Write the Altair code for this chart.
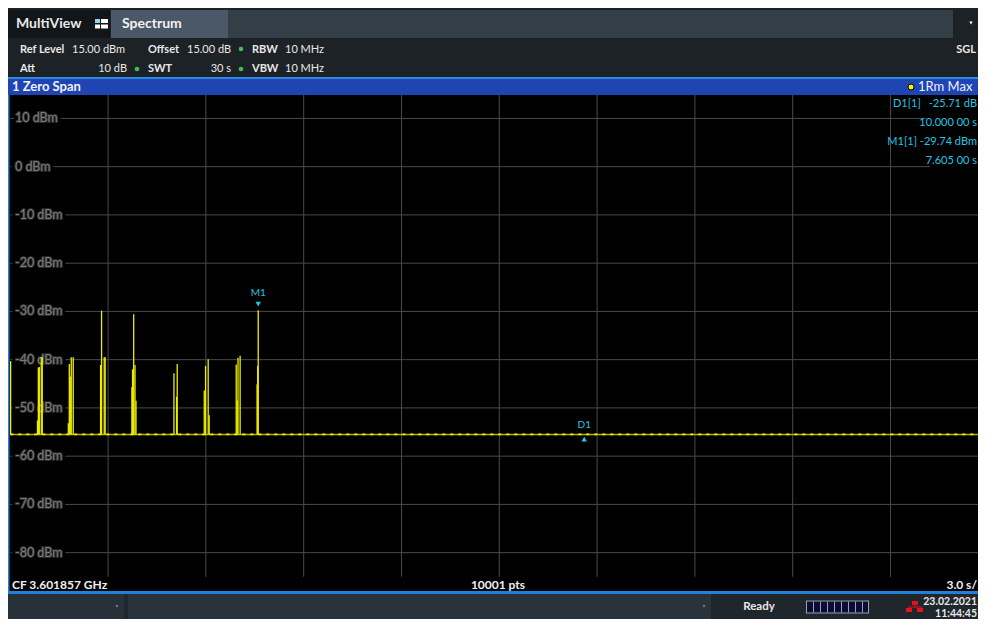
import altair as alt
import pandas as pd

# ---------------- data ----------------
grid_times = [3, 6, 9, 12, 15, 18, 21, 24, 27]
grid_levels = [10, 0, -10, -20, -30, -40, -50, -60, -70, -80]
level_labels = ["10 dBm", "0 dBm", "-10 dBm", "-20 dBm", "-30 dBm", "-40 dBm",
                "-50 dBm", "-60 dBm", "-70 dBm", "-80 dBm"]
noise_floor = -55.5
spike_t = [0.01, 0.834, 0.86, 0.89, 0.95, 0.98, 1.78, 1.81, 1.84, 1.87, 1.93,
           2.77, 2.80, 2.88, 2.91, 3.73, 3.75, 3.785, 3.825, 3.856, 5.02, 5.10,
           5.12, 5.95, 5.99, 6.07, 6.10, 6.93, 6.96, 6.985, 7.05, 7.57, 7.59, 7.605]
spike_db = [-40.3, -52.6, -41.6, -41.5, -39.5, -39.5, -53.2, -40.9, -43.5, -39.5,
            -39.5, -41.1, -29.85, -39.5, -39.5, -45.7, -42.0, -30.6, -41.1, -48.5,
            -42.8, -47.7, -40.9, -46.4, -41.3, -39.9, -51.5, -41.0, -48.4, -39.6,
            -39.2, -45.1, -41.3, -29.74]
m1_t, m1_db = 7.605, -29.74
d1_t, d1_db = 17.605, -55.45

FONT = "Lato"
W, H = 970, 611
X_SCALE = alt.Scale(domain=[-0.07055, 29.684], nice=False, zero=False)
Y_SCALE = alt.Scale(domain=[-93.75, 32.886], nice=False, zero=False)
one = alt.Data(values=[{"a": 1}])
OFF = 8  # page margin
RIGHT = 977


def box(x1, y1, x2, y2, color):
    return alt.Chart(one).mark_rect(color=color).encode(
        x=alt.value(x1 - OFF), x2=alt.value(x2 - OFF),
        y=alt.value(y1 - OFF), y2=alt.value(y2 - OFF))


def label(x, y, s, color="#e8e8e8", size=11, weight="bold", align="left", **kw):
    return alt.Chart(one).mark_text(text=s, color=color, fontSize=size, fontWeight=weight,
                                    align=align, baseline="middle", font=FONT, **kw).encode(
        x=alt.value(x - OFF), y=alt.value(y - OFF))


def tri(x, y, color, shape="triangle-down", size=14):
    return alt.Chart(one).mark_point(shape=shape, filled=True, color=color, size=size,
                                     opacity=1).encode(x=alt.value(x - OFF), y=alt.value(y - OFF))


layers = []
# ---- top chrome ----
layers += [
    box(7, 5, 990, 78, "#1d2227"),
    box(7, 10, 110, 38, "#121619"),
    box(111, 10, 228, 38, "#4a5867"),
    box(228, 10, 953, 38, "#343e47"),
    box(95, 19, 100, 23, "#8fd6f5"), box(101, 19, 108, 23, "#ffffff"),
    box(95, 24.5, 100, 28.5, "#ffffff"), box(101, 24.5, 108, 28.5, "#ffffff"),
    tri(971, 23, "#ffffff", size=12),
    label(16, 24, "MultiView", size=14),
    label(122, 24, "Spectrum", size=14, color="#f2f2f2"),
    label(20, 50, "Ref Level"), label(72, 50, "15.00 dBm", weight="normal"),
    label(148, 50, "Offset"), label(187, 50, "15.00 dB", weight="normal"),
    label(252, 50, "RBW"), label(285, 50, "10 MHz", weight="normal"),
    label(20, 69, "Att"), label(127, 69, "10 dB", weight="normal", align="right"),
    label(148, 69, "SWT"), label(231, 69, "30 s", weight="normal", align="right"),
    label(252, 69, "VBW"), label(285, 69, "10 MHz", weight="normal"),
    label(RIGHT - 1, 50, "SGL", align="right"),
]
for cx, cy in [(241, 49), (137, 69), (241, 69)]:
    layers.append(alt.Chart(one).mark_point(shape="circle", filled=True, color="#3fbf5a",
                                            size=22, opacity=1).encode(
        x=alt.value(cx - OFF), y=alt.value(cy - OFF)))
# blue title bar
layers += [
    box(7, 77, 990, 79, "#2b8ae6"),
    box(7, 79, 990, 95, "#1f45b2"),
    label(12, 87, "1 Zero Span", size=13, color="#eef2ff"),
    alt.Chart(one).mark_point(shape="circle", filled=True, color="#ffee00", size=36,
                              opacity=1, stroke="#000000", strokeWidth=1).encode(
        x=alt.value(911 - OFF), y=alt.value(87 - OFF)),
    label(918, 87, "1Rm Max", size=13, weight="normal", color="#eef2ff"),
]
# plot frame
layers += [
    box(7, 95, 990, 594, "#000000"),
    box(7, 95, 9.5, 594, "#2a7fd6"),
    box(7, 591, 990, 594, "#2280dc"),
]
# status bar
layers += [
    box(7, 594, 990, 620, "#1f262c"),
    box(7, 594, 124, 620, "#283039"),
    box(128, 594, 711, 620, "#29333c"),
    tri(117, 606.5, "#7d8590", size=10),
    tri(704, 606.5, "#7d8590", size=10),
    label(759, 607, "Ready", size=11.5, align="center"),
    box(806, 600.5, 869, 613.5, "#9aa0ae"),
    box(807, 601.5, 868, 612.5, "#0c0c36"),
]
for k in range(1, 9):
    xk = 806 + k * 7
    layers.append(box(xk, 601.5, xk + 1, 612.5, "#9aa0ae"))
layers += [
    box(912, 601, 918, 605, "#e8101c"),
    box(914.5, 605, 915.5, 607, "#e8101c"),
    box(908, 606.5, 922, 607.5, "#e8101c"),
    box(906, 608, 912, 612, "#e8101c"),
    box(917, 608, 923, 612, "#e8101c"),
    label(RIGHT, 602, "23.02.2021", size=10.5, align="right"),
    label(RIGHT, 613.5, "11:44:45", size=10.5, align="right"),
]

# ---- data layers ----
gv = pd.DataFrame({"t": grid_times, "lo": -85, "hi": 15})
gh = pd.DataFrame({"level": grid_levels, "label": level_labels, "t0": 0, "t1": 30})
spikes = pd.DataFrame({"t": spike_t, "db": spike_db, "floor": noise_floor})
floor_df = pd.DataFrame({"t0": [0], "t1": [30], "db": [noise_floor]})
markers = pd.DataFrame({"t": [m1_t, d1_t], "db": [m1_db, d1_db], "name": ["M1", "D1"]})

vgrid = alt.Chart(gv).mark_rule(color="#4a4a4a", strokeWidth=1).encode(
    x=alt.X("t:Q", scale=X_SCALE, axis=None),
    y=alt.Y("lo:Q", scale=Y_SCALE, axis=None), y2="hi:Q")
hgrid = alt.Chart(gh).mark_rule(color="#4a4a4a", strokeWidth=1).encode(
    x=alt.X("t0:Q", scale=X_SCALE, axis=None), x2="t1:Q",
    y=alt.Y("level:Q", scale=Y_SCALE, axis=None))
lab_enc = dict(x=alt.value(15 - OFF), y=alt.Y("level:Q", scale=Y_SCALE, axis=None),
               text="label:N")
ylab_halo = alt.Chart(gh).mark_text(align="left", baseline="middle", font=FONT, fontSize=12.5,
                                    color="#000000", stroke="#000000", strokeWidth=7,
                                    strokeJoin="round").encode(**lab_enc)
ylab_glow = alt.Chart(gh).mark_text(align="left", baseline="middle", font=FONT, fontSize=12.5,
                                    color="#2a2a2a", stroke="#2a2a2a", strokeWidth=2,
                                    strokeJoin="round").encode(**lab_enc)
ylab = alt.Chart(gh).mark_text(align="left", baseline="middle", font=FONT, fontSize=12.5,
                               color="#7c7c7c").encode(**lab_enc)

floor_solid = alt.Chart(floor_df).mark_rule(color="#b8b200", strokeWidth=1.6).encode(
    x=alt.X("t0:Q", scale=X_SCALE, axis=None), x2="t1:Q",
    y=alt.Y("db:Q", scale=Y_SCALE, axis=None))
floor_dots = alt.Chart(floor_df).mark_rule(color="#f4f200", strokeWidth=1.8,
                                           strokeDash=[3, 5]).encode(
    x=alt.X("t0:Q", scale=X_SCALE, axis=None), x2="t1:Q",
    y=alt.Y("db:Q", scale=Y_SCALE, axis=None))
spike_rules = alt.Chart(spikes).mark_rule(color="#eeee00", strokeWidth=1.3).encode(
    x=alt.X("t:Q", scale=X_SCALE, axis=None),
    y=alt.Y("floor:Q", scale=Y_SCALE, axis=None), y2="db:Q")

CYAN = "#22c6e2"
m1 = markers[markers.name == "M1"]
d1 = markers[markers.name == "D1"]
menc = dict(x=alt.X("t:Q", scale=X_SCALE, axis=None), y=alt.Y("db:Q", scale=Y_SCALE, axis=None))
m1_tri = alt.Chart(m1).mark_point(shape="triangle-down", filled=True, color=CYAN, size=30,
                                  opacity=1, yOffset=-6).encode(**menc)
m1_txt = alt.Chart(m1).mark_text(color=CYAN, font=FONT, fontSize=10, baseline="middle",
                                 dy=-17).encode(text="name:N", **menc)
d1_tri = alt.Chart(d1).mark_point(shape="triangle-up", filled=True, color=CYAN, size=30,
                                  opacity=1, yOffset=5).encode(**menc)
d1_txt = alt.Chart(d1).mark_text(color=CYAN, font=FONT, fontSize=10, baseline="middle",
                                 dy=-9).encode(text="name:N", **menc)

data_layers = [vgrid, hgrid, ylab_halo, ylab_glow, ylab, floor_solid, floor_dots,
               spike_rules, m1_tri, m1_txt, d1_tri, d1_txt]

# ---- bottom info + marker table ----
CS = 11
top_layers = [
    box(926, 112, 990, 130, "#000000"),
    box(930, 154, 990, 170, "#000000"),
    label(893, 104, "D1[1]", color=CYAN, size=CS, weight="normal"),
    label(RIGHT, 104, "-25.71 dB", color=CYAN, size=CS, weight="normal", align="right"),
    label(RIGHT, 123, "10.000 00 s", color=CYAN, size=CS, weight="normal", align="right"),
    label(RIGHT, 142, "M1[1]  -29.74 dBm", color=CYAN, size=CS, weight="normal", align="right"),
    label(RIGHT, 161, "7.605 00 s", color=CYAN, size=CS, weight="normal", align="right"),
    label(12, 585, "CF 3.601857 GHz", size=12, color="#f0f0f0"),
    label(498, 585, "10001 pts", size=12, color="#f0f0f0", align="center"),
    label(RIGHT, 585, "3.0 s/", size=12, color="#f0f0f0", align="right"),
]

chart = alt.layer(*(layers + data_layers + top_layers)).properties(
    width=W, height=H, padding=0, background="#ffffff",
    autosize=alt.AutoSizeParams(type="none"),
).configure_view(strokeWidth=0)

chart.save("out.html", embed_options={"renderer": "svg", "actions": False})
